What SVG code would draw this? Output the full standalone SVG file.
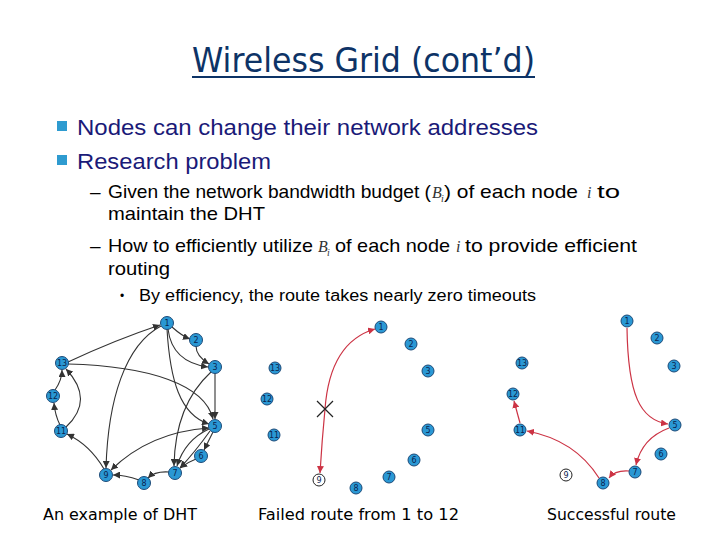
<svg xmlns="http://www.w3.org/2000/svg" width="720" height="540" viewBox="0 0 720 540">
<defs>
<marker id="ab" viewBox="0 0 10 10" refX="10" refY="5" markerWidth="7" markerHeight="7" markerUnits="userSpaceOnUse" orient="auto-start-reverse"><path d="M0,0 L10,5 L0,10 z" fill="#333"/></marker>
<marker id="ar" viewBox="0 0 10 10" refX="10" refY="5" markerWidth="7" markerHeight="7" markerUnits="userSpaceOnUse" orient="auto-start-reverse"><path d="M0,0 L10,5 L0,10 z" fill="#cc3344"/></marker>
<style>
.n circle{fill:#2a98d4;stroke:#1d4a78;stroke-width:1}
.w circle{fill:#fff;stroke:#222;stroke-width:1}
.n text,.w text{font-family:"DejaVu Sans",sans-serif;font-size:8px;fill:#0a2550;text-anchor:middle}
.e path{fill:none;stroke:#333;stroke-width:1.1}
.r path{fill:none;stroke:#cc3344;stroke-width:1.2}
.t{font-family:"Liberation Sans",Arial,sans-serif}
.cap{font-family:"DejaVu Sans",Tahoma,sans-serif;font-size:15px;fill:#000}
.m{font-family:"Liberation Serif","Times New Roman",serif;font-style:italic;fill:#333}
</style>
</defs>
<rect width="720" height="540" fill="#fff"/>

<g id="title">
<text x="192" y="72" font-family="DejaVu Sans, Tahoma, sans-serif" font-size="33" fill="#0d3366" textLength="343" lengthAdjust="spacingAndGlyphs">Wireless Grid (cont’d)</text>
<rect x="192" y="76" width="343" height="2" fill="#0d3366"/>
</g>

<g id="bullets">
<rect x="57" y="121" width="10" height="10" fill="#2e9bd0"/>
<text class="t" x="77" y="135" font-size="22" fill="#1a1a78" textLength="461" lengthAdjust="spacingAndGlyphs">Nodes can change their network addresses</text>
<rect x="57" y="155" width="10" height="10" fill="#2e9bd0"/>
<text class="t" x="77" y="169" font-size="22" fill="#1a1a78" textLength="194" lengthAdjust="spacingAndGlyphs">Research problem</text>

<text class="t" x="90" y="198" font-size="19">–</text>
<text class="t" x="108" y="198" font-size="19" textLength="323" lengthAdjust="spacingAndGlyphs">Given the network bandwidth budget (</text>
<text class="m" x="432" y="198" font-size="16">B</text>
<text class="m" x="441" y="202" font-size="10">i</text>
<text class="t" x="444" y="198" font-size="19" textLength="134" lengthAdjust="spacingAndGlyphs">) of each node</text>
<text class="m" x="587" y="198" font-size="16">i</text>
<text class="t" x="597" y="198" font-size="19" textLength="23" lengthAdjust="spacingAndGlyphs">to</text>
<text class="t" x="108" y="220" font-size="19" textLength="157" lengthAdjust="spacingAndGlyphs">maintain the DHT</text>

<text class="t" x="90" y="252" font-size="19">–</text>
<text class="t" x="108" y="252" font-size="19" textLength="205" lengthAdjust="spacingAndGlyphs">How to efficiently utilize</text>
<text class="m" x="318" y="252" font-size="16">B</text>
<text class="m" x="327" y="256" font-size="10">i</text>
<text class="t" x="335" y="252" font-size="19" textLength="115" lengthAdjust="spacingAndGlyphs">of each node</text>
<text class="m" x="456" y="252" font-size="16">i</text>
<text class="t" x="465" y="252" font-size="19" textLength="172" lengthAdjust="spacingAndGlyphs">to provide efficient</text>
<text class="t" x="108" y="275" font-size="19" textLength="62" lengthAdjust="spacingAndGlyphs">routing</text>

<text class="t" x="120" y="300" font-size="12">•</text>
<text class="t" x="139" y="301" font-size="16" textLength="397" lengthAdjust="spacingAndGlyphs">By efficiency, the route takes nearly zero timeouts</text>
</g>

<g id="connectors">
<g class="e">
<path d="M68,362 Q115,340 160,325" marker-end="url(#ab)"/>
<path d="M172,327 Q182,336 190,339" marker-end="url(#ab)"/>
<path d="M196,346 Q196,356 209,364" marker-end="url(#ab)"/>
<path d="M168,329 Q172,362 208,367" marker-end="url(#ab)"/>
<path d="M167,329 C170,380 180,415 209,424" marker-end="url(#ab)"/>
<path d="M161,326 C125,345 108,400 106,468" marker-end="url(#ab)"/>
<path d="M215,373 L215,419" marker-end="url(#ab)"/>
<path d="M211,372 Q175,405 174,466" marker-end="url(#ab)"/>
<path d="M68,364 C150,366 205,385 213,419" marker-end="url(#ab)"/>
<path d="M209,428 Q150,432 111,470" marker-start="url(#ab)" marker-end="url(#ab)"/>
<path d="M213,432 L204,450" marker-end="url(#ab)"/>
<path d="M209,429 Q185,440 177,466" marker-end="url(#ab)"/>
<path d="M210,431 Q195,452 180,468" marker-end="url(#ab)"/>
<path d="M196,459 Q188,462 180,468" marker-end="url(#ab)"/>
<path d="M169,472 Q155,471 148,478" marker-end="url(#ab)"/>
<path d="M139,480 Q125,475 113,475" marker-end="url(#ab)"/>
<path d="M104,469 Q90,445 67,434" marker-end="url(#ab)"/>
<path d="M60,425 Q55,415 54,403" marker-end="url(#ab)"/>
<path d="M55,390 Q62,380 62,370" marker-end="url(#ab)"/>
<path d="M66,427 Q95,400 66,369" marker-end="url(#ab)"/>
</g>
<g class="r">
<path d="M375,329 Q330,342 325,409 Q322,440 320,473" marker-start="url(#ar)" marker-end="url(#ar)"/>
<path d="M627,328 C628,395 640,420 668,424" marker-end="url(#ar)"/>
<path d="M669,428 Q642,438 636,465" marker-end="url(#ar)"/>
<path d="M629,471 Q615,470 609,478" marker-end="url(#ar)"/>
<path d="M599,478 Q575,440 527,431" marker-end="url(#ar)"/>
<path d="M520,423 L514,401" marker-end="url(#ar)"/>
</g>
<path d="M317,401 L333,417 M333,401 L317,417" stroke="#222" stroke-width="1.2" fill="none"/>
</g>

<g id="dht">
<g id="a1" class="n"><circle cx="167" cy="323" r="6.5"/><text x="167" y="326">1</text></g>
<g id="a2" class="n"><circle cx="196" cy="340" r="6.5"/><text x="196" y="343">2</text></g>
<g id="a3" class="n"><circle cx="215" cy="367" r="6.5"/><text x="215" y="370">3</text></g>
<g id="a5" class="n"><circle cx="215" cy="426" r="6.5"/><text x="215" y="429">5</text></g>
<g id="a6" class="n"><circle cx="201" cy="456" r="6.5"/><text x="201" y="459">6</text></g>
<g id="a7" class="n"><circle cx="175" cy="473" r="6.5"/><text x="175" y="476">7</text></g>
<g id="a8" class="n"><circle cx="144" cy="483" r="6.5"/><text x="144" y="486">8</text></g>
<g id="a9" class="n"><circle cx="106" cy="475" r="6.5"/><text x="106" y="478">9</text></g>
<g id="a11" class="n"><circle cx="61" cy="431" r="6.5"/><text x="61" y="434">11</text></g>
<g id="a12" class="n"><circle cx="53" cy="396" r="6.5"/><text x="53" y="399">12</text></g>
<g id="a13" class="n"><circle cx="62" cy="363" r="6.5"/><text x="62" y="366">13</text></g>
</g>

<g id="failed">
<g id="b1" class="n"><circle cx="381" cy="327" r="6"/><text x="381" y="330">1</text></g>
<g id="b2" class="n"><circle cx="411" cy="344" r="6"/><text x="411" y="347">2</text></g>
<g id="b3" class="n"><circle cx="428" cy="371" r="6"/><text x="428" y="374">3</text></g>
<g id="b5" class="n"><circle cx="428" cy="430" r="6"/><text x="428" y="433">5</text></g>
<g id="b6" class="n"><circle cx="414" cy="460" r="6"/><text x="414" y="463">6</text></g>
<g id="b7" class="n"><circle cx="389" cy="477" r="6"/><text x="389" y="480">7</text></g>
<g id="b8" class="n"><circle cx="356" cy="488" r="6"/><text x="356" y="491">8</text></g>
<g id="b9" class="w"><circle cx="319" cy="480" r="6"/><text x="319" y="483">9</text></g>
<g id="b11" class="n"><circle cx="274" cy="435" r="6"/><text x="274" y="438">11</text></g>
<g id="b12" class="n"><circle cx="267" cy="399" r="6"/><text x="267" y="402">12</text></g>
<g id="b13" class="n"><circle cx="275" cy="368" r="6"/><text x="275" y="371">13</text></g>
</g>

<g id="success">
<g id="c1" class="n"><circle cx="627" cy="321" r="6"/><text x="627" y="324">1</text></g>
<g id="c2" class="n"><circle cx="657" cy="338" r="6"/><text x="657" y="341">2</text></g>
<g id="c3" class="n"><circle cx="674" cy="366" r="6"/><text x="674" y="369">3</text></g>
<g id="c5" class="n"><circle cx="675" cy="425" r="6"/><text x="675" y="428">5</text></g>
<g id="c6" class="n"><circle cx="661" cy="454" r="6"/><text x="661" y="457">6</text></g>
<g id="c7" class="n"><circle cx="635" cy="472" r="6"/><text x="635" y="475">7</text></g>
<g id="c8" class="n"><circle cx="603" cy="483" r="6"/><text x="603" y="486">8</text></g>
<g id="c9" class="w"><circle cx="566" cy="475" r="6"/><text x="566" y="478">9</text></g>
<g id="c11" class="n"><circle cx="520" cy="430" r="6"/><text x="520" y="433">11</text></g>
<g id="c12" class="n"><circle cx="513" cy="394" r="6"/><text x="513" y="397">12</text></g>
<g id="c13" class="n"><circle cx="522" cy="363" r="6"/><text x="522" y="366">13</text></g>
</g>

<g id="captions">
<text class="cap" x="43" y="520" textLength="154" lengthAdjust="spacingAndGlyphs">An example of DHT</text>
<text class="cap" x="258" y="520" textLength="201" lengthAdjust="spacingAndGlyphs">Failed route from 1 to 12</text>
<text class="cap" x="547" y="520" textLength="129" lengthAdjust="spacingAndGlyphs">Successful route</text>
</g>
</svg>
